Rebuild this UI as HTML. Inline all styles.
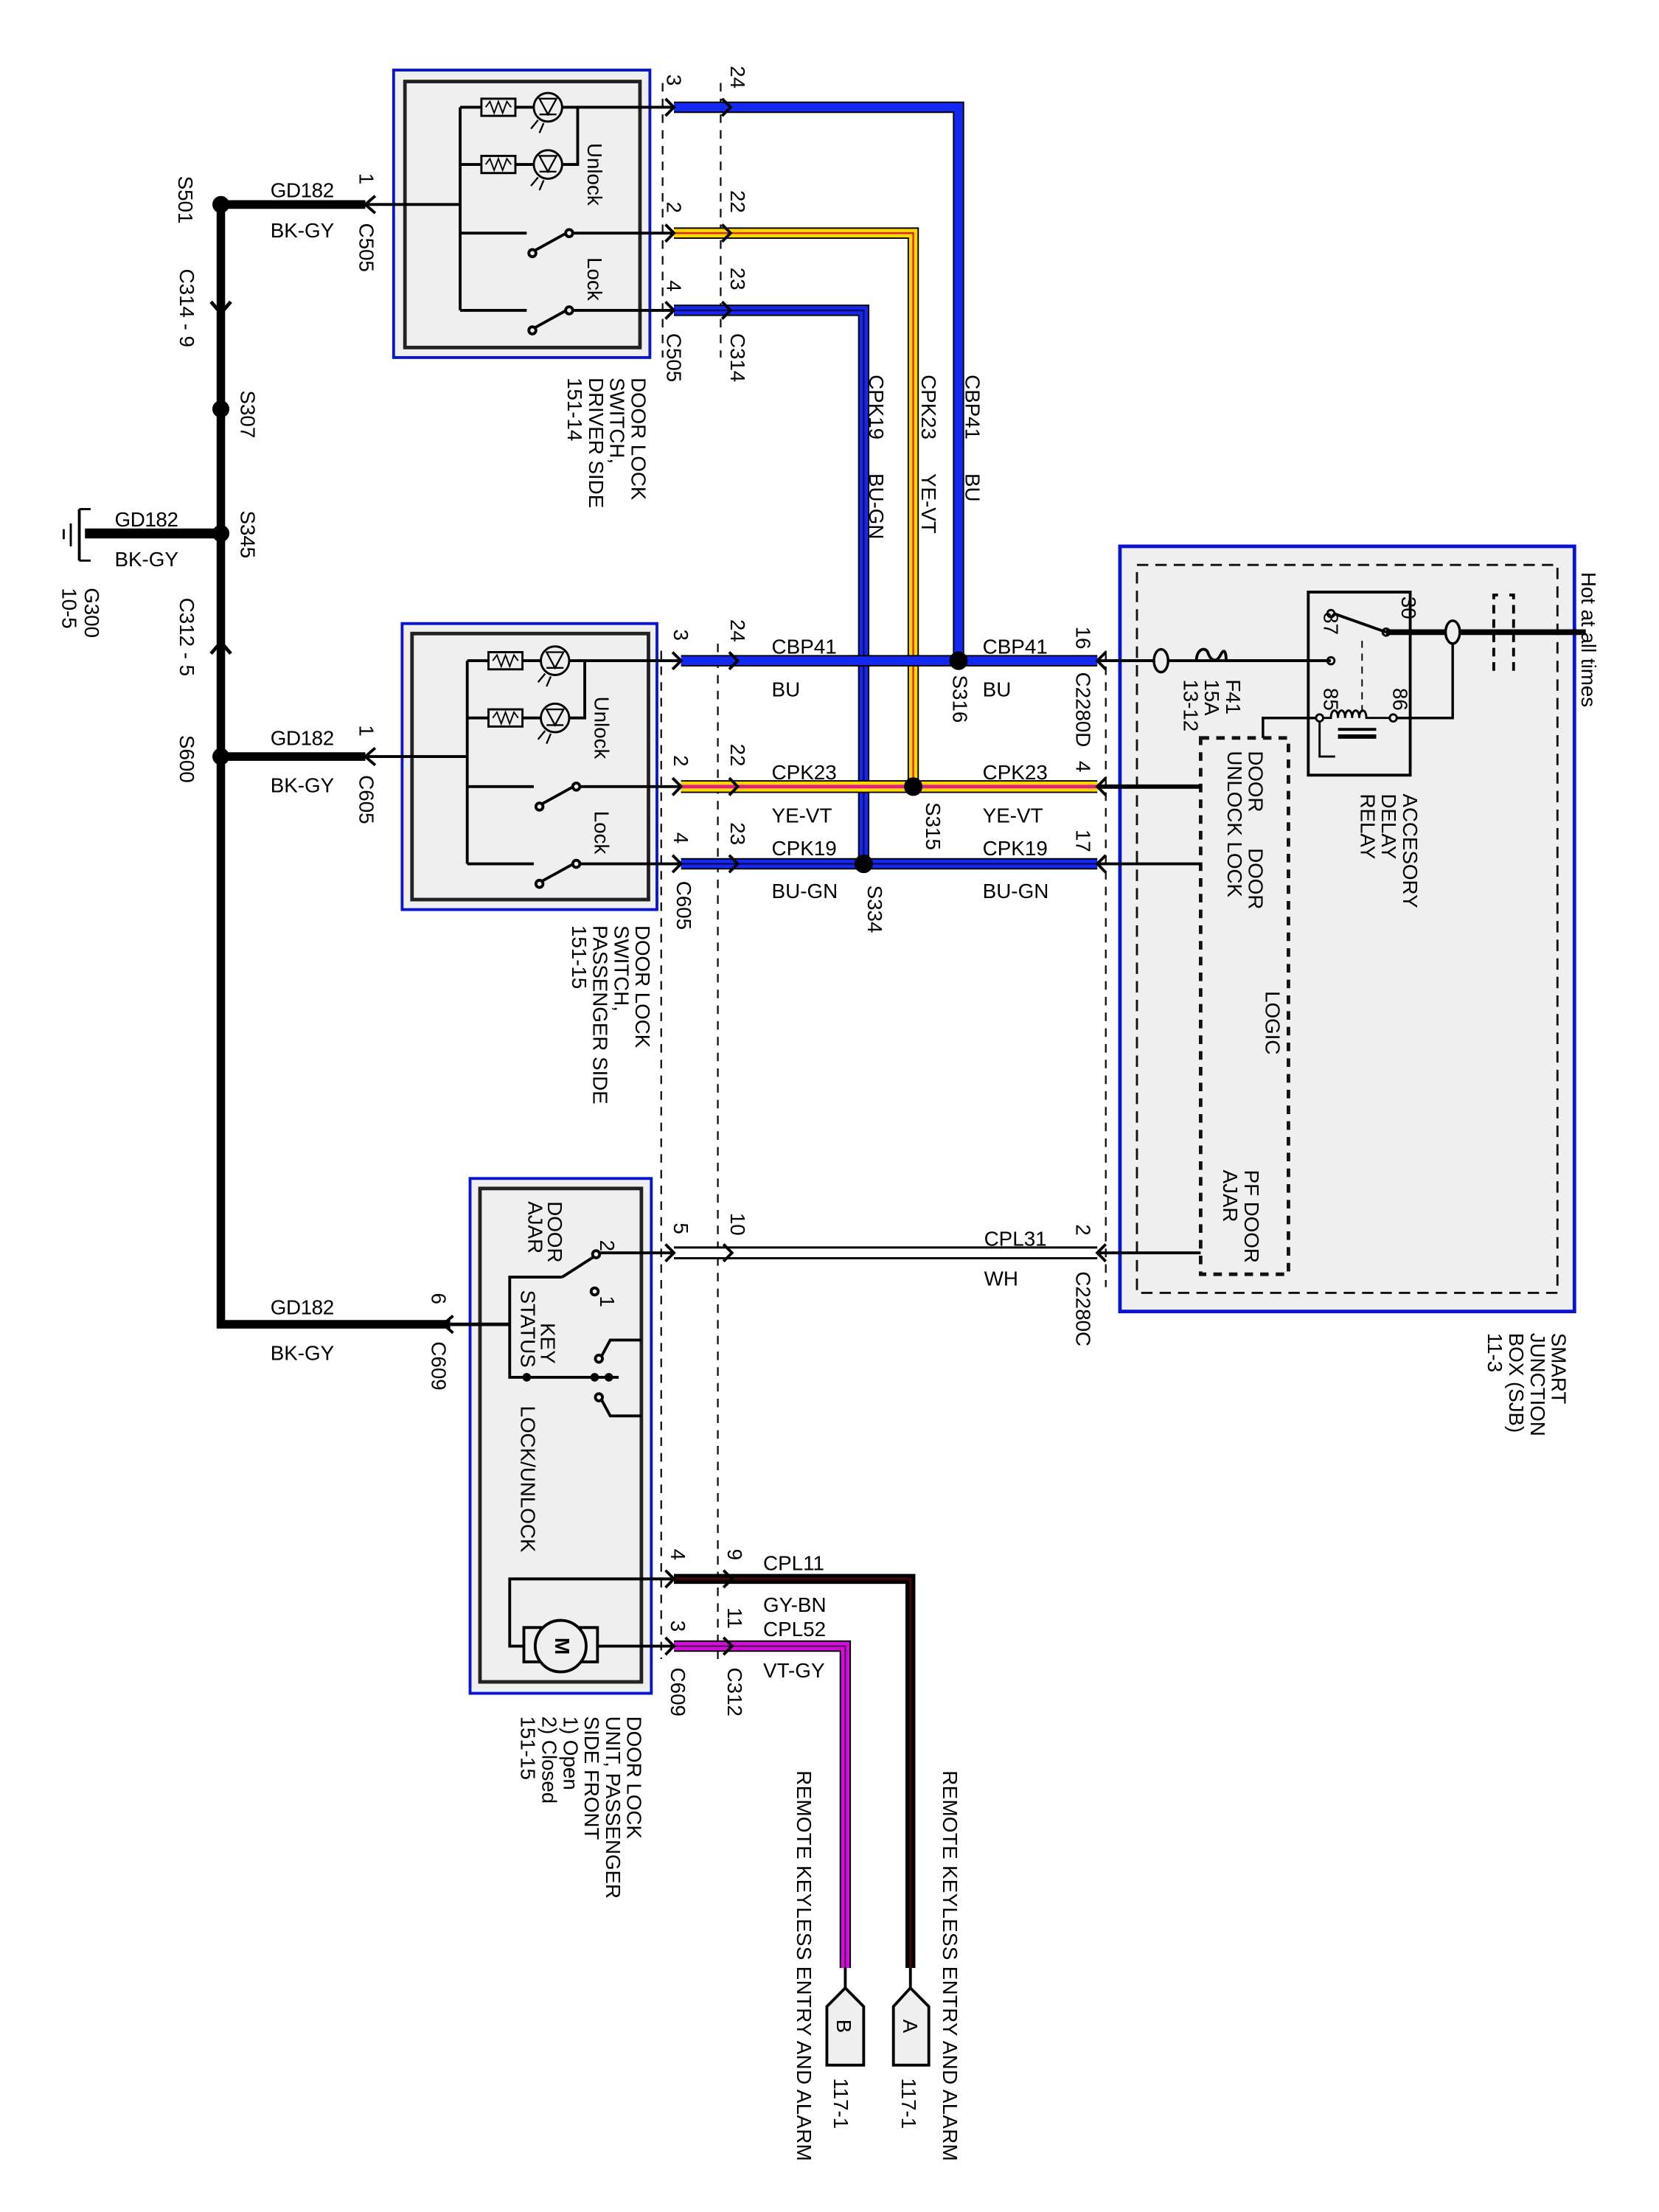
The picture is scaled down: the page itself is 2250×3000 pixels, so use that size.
<!DOCTYPE html>
<html><head><meta charset="utf-8"><style>
html,body{margin:0;padding:0;background:#fff;}
svg{display:block;}
text{font-family:"Liberation Sans",Arial,sans-serif;fill:#000;}
.n{font-size:14.3px;}
.h{font-size:14.5px;}
</style></head><body>
<svg width="2250" height="3000" viewBox="0 0 1160 1546.67" preserveAspectRatio="none" xmlns="http://www.w3.org/2000/svg">
<rect x="0" y="0" width="1160" height="1547" fill="#fff"/>
<g transform="scale(0.99,1)">

<!-- ===== component boxes ===== -->
<rect x="278" y="49" width="181" height="201" fill="#efefef" stroke="#0a14d0" stroke-width="2"/>
<rect x="286" y="57" width="166" height="186" fill="#efefef" stroke="#222" stroke-width="2.5"/>
<rect x="284" y="436" width="180" height="200" fill="#efefef" stroke="#0a14d0" stroke-width="2"/>
<rect x="291" y="443" width="167" height="186" fill="#efefef" stroke="#222" stroke-width="2.5"/>
<rect x="332" y="824" width="128" height="360" fill="#efefef" stroke="#0a14d0" stroke-width="2"/>
<rect x="339" y="831" width="114" height="345" fill="#efefef" stroke="#222" stroke-width="2.5"/>
<rect x="791" y="382" width="321" height="535" fill="#efefef" stroke="#0a14d0" stroke-width="2.5"/>
<rect x="803" y="395" width="297" height="509" fill="none" stroke="#111" stroke-width="1.5" stroke-dasharray="8,5"/>
<rect x="848" y="516" width="62" height="375" fill="none" stroke="#111" stroke-width="2.5" stroke-dasharray="6,5"/>

<!-- connector dashed lines -->
<g stroke="#111" stroke-width="1.2" stroke-dasharray="6,5" fill="none">
<line x1="468" y1="58" x2="468" y2="250"/>
<line x1="509" y1="58" x2="509" y2="250"/>
<line x1="467" y1="455" x2="467" y2="1160"/>
<line x1="507" y1="450" x2="507" y2="1160"/>
<line x1="781" y1="455" x2="781" y2="900"/>
</g>

<!-- ===== ground bus ===== -->
<g stroke="#000" fill="none">
<polyline points="156,143 156,926 318,926" stroke-width="6"/>
<line x1="156" y1="143" x2="258" y2="143" stroke-width="6"/>
<line x1="156" y1="529" x2="258" y2="529" stroke-width="6"/>
<line x1="156" y1="373" x2="60" y2="373" stroke-width="7"/>
<line x1="258" y1="143" x2="325" y2="143" stroke-width="2"/>
<line x1="258" y1="529" x2="330" y2="529" stroke-width="2"/>
<line x1="318" y1="926" x2="360" y2="926" stroke-width="2.5"/>
<path d="M149 211 L156 219 L163 211" stroke-width="2.5"/>
<path d="M149 457 L156 449 L163 457" stroke-width="2.5"/>
<path d="M265 137 L258 143 L265 149" stroke-width="2"/>
<path d="M265 523 L258 529 L265 535" stroke-width="2"/>
<path d="M320 920 L313 926 L320 932" stroke-width="2"/>
<line x1="56" y1="356" x2="56" y2="392" stroke-width="2"/>
<path d="M56 356 L64 356 M56 392 L64 392" stroke-width="1.5"/>
<line x1="50" y1="366" x2="50" y2="382" stroke-width="1.5"/>
<line x1="45" y1="370" x2="45" y2="377" stroke-width="1.5"/>
</g>
<g fill="#000">
<circle cx="156" cy="143" r="6"/><circle cx="156" cy="286" r="6"/>
<circle cx="156" cy="373" r="6"/><circle cx="156" cy="529" r="6"/>
</g>

<!-- ===== switch internals (driver, passenger) ===== -->
<g id="drv" stroke="#000" fill="none" stroke-width="2">
<line x1="325" y1="75" x2="325" y2="217"/>
<line x1="325" y1="75" x2="340" y2="75"/><rect x="340" y="69" width="24" height="12" stroke-width="1.5"/>
<path d="M343 75 l3 -4 l3 8 l3 -8 l3 8 l3 -8 l3 4" stroke-width="1"/>
<line x1="364" y1="75" x2="377" y2="75"/><circle cx="387" cy="75" r="10" stroke-width="1.5"/>
<path d="M381 69 L387 80 L393 69 Z M381 80 L393 80" stroke-width="1.2"/>
<line x1="397" y1="75" x2="476" y2="75"/>
<line x1="325" y1="115" x2="340" y2="115"/><rect x="340" y="109" width="24" height="12" stroke-width="1.5"/>
<path d="M343 115 l3 -4 l3 8 l3 -8 l3 8 l3 -8 l3 4" stroke-width="1"/>
<line x1="364" y1="115" x2="377" y2="115"/><circle cx="387" cy="115" r="10" stroke-width="1.5"/>
<path d="M381 109 L387 120 L393 109 Z M381 120 L393 120" stroke-width="1.2"/>
<polyline points="397,115 408,115 408,75"/>
<path d="M380 84 l-5 6 M384 86 l-3 7 M380 124 l-5 6 M384 126 l-3 7" stroke-width="1.2"/>
<line x1="325" y1="163" x2="372" y2="163"/>
<circle cx="376" cy="177" r="2.5"/><line x1="378" y1="175" x2="400" y2="163"/><circle cx="402" cy="163" r="2.5"/>
<line x1="404" y1="163" x2="476" y2="163"/>
<line x1="325" y1="217" x2="372" y2="217"/>
<circle cx="376" cy="231" r="2.5"/><line x1="378" y1="229" x2="400" y2="217"/><circle cx="402" cy="217" r="2.5"/>
<line x1="404" y1="217" x2="476" y2="217"/>
</g>
<use href="#drv" transform="translate(5,387)"/>

<!-- ===== wires ===== -->
<g fill="none" stroke-linejoin="miter">
<polyline points="476,75 677,75 677,462" stroke="#000" stroke-width="8"/>
<polyline points="476,75 677,75 677,462" stroke="#1428f0" stroke-width="6"/>
<polyline points="476,163 645,163 645,550" stroke="#000" stroke-width="8"/>
<polyline points="476,163 645,163 645,550" stroke="#ffd800" stroke-width="6"/>
<polyline points="476,163 645,163 645,550" stroke="#e02020" stroke-width="1.2"/>
<polyline points="476,217 610,217 610,604" stroke="#000" stroke-width="8"/>
<polyline points="476,217 610,217 610,604" stroke="#1428f0" stroke-width="6"/>
<polyline points="476,217 610,217 610,604" stroke="#0a0a60" stroke-width="1.2"/>
<line x1="481" y1="462" x2="775" y2="462" stroke="#000" stroke-width="8"/>
<line x1="481" y1="462" x2="775" y2="462" stroke="#1428f0" stroke-width="6"/>
<line x1="481" y1="550" x2="775" y2="550" stroke="#000" stroke-width="9"/>
<line x1="481" y1="550" x2="775" y2="550" stroke="#ffd800" stroke-width="7"/>
<line x1="481" y1="550" x2="775" y2="550" stroke="#e0208a" stroke-width="2.5"/>
<line x1="481" y1="604" x2="775" y2="604" stroke="#000" stroke-width="8"/>
<line x1="481" y1="604" x2="775" y2="604" stroke="#1428f0" stroke-width="6"/>
<line x1="481" y1="604" x2="775" y2="604" stroke="#0a0a60" stroke-width="1.2"/>
<line x1="476" y1="876" x2="775" y2="876" stroke="#000" stroke-width="9"/>
<line x1="476" y1="876" x2="775" y2="876" stroke="#fff" stroke-width="6"/>
<polyline points="476,1104 643,1104 643,1376" stroke="#000" stroke-width="7"/>
<polyline points="476,1104 643,1104 643,1376" stroke="#3a0a0a" stroke-width="2"/>
<polyline points="476,1151 597,1151 597,1376" stroke="#000" stroke-width="8"/>
<polyline points="476,1151 597,1151 597,1376" stroke="#d010d8" stroke-width="6"/>
<polyline points="476,1151 597,1151 597,1376" stroke="#500050" stroke-width="1"/>
<g stroke="#000" stroke-width="2">
<line x1="775" y1="462" x2="940" y2="462"/>
<line x1="775" y1="550" x2="848" y2="550" stroke-width="3"/>
<line x1="775" y1="604" x2="848" y2="604"/>
<line x1="775" y1="876" x2="848" y2="876"/>
</g>
</g>
<g fill="#000">
<circle cx="677" cy="462" r="6.5"/><circle cx="645" cy="550" r="6.5"/><circle cx="610" cy="604" r="6.5"/>
</g>

<!-- chevrons -->
<g stroke="#000" stroke-width="2" fill="none">
<path d="M470 69 L476 75 L470 81 M510 69 L516 75 L510 81"/>
<path d="M470 157 L476 163 L470 169 M510 157 L516 163 L510 169"/>
<path d="M470 211 L476 217 L470 223 M510 211 L516 217 L510 223"/>
<path d="M475 456 L481 462 L475 468 M515 456 L521 462 L515 468"/>
<path d="M475 544 L481 550 L475 556 M515 544 L521 550 L515 556"/>
<path d="M475 598 L481 604 L475 610 M515 598 L521 604 L515 610"/>
<path d="M470 870 L476 876 L470 882 M511 870 L517 876 L511 882"/>
<path d="M470 1098 L476 1104 L470 1110 M511 1098 L517 1104 L511 1110"/>
<path d="M470 1145 L476 1151 L470 1157 M511 1145 L517 1151 L511 1157"/>
<path d="M781 456 L775 462 L781 468 M781 544 L775 550 L781 556 M781 598 L775 604 L781 610 M781 870 L775 876 L781 882"/>
</g>

<!-- ===== lock unit internals ===== -->
<g stroke="#000" stroke-width="2" fill="none">
<circle cx="421" cy="877" r="2.5"/><line x1="423" y1="876" x2="476" y2="876"/>
<line x1="397" y1="893" x2="419" y2="879"/>
<polyline points="397,893 360,893 360,963 437,963"/>
<circle cx="420" cy="903" r="2.5"/>
<circle cx="423" cy="950" r="2.5"/><polyline points="425,948 431,937 453,937"/>
<circle cx="423" cy="977" r="2.5"/><polyline points="425,979 431,990 453,990"/>
<line x1="330" y1="926" x2="360" y2="926"/>
<rect x="370" y="1138" width="52" height="24" fill="#efefef"/>
<circle cx="396" cy="1151" r="18" fill="#efefef"/>
<polyline points="422,1151 476,1151"/>
<polyline points="370,1151 360,1151 360,1104 476,1104"/>
</g>
<g fill="#000"><circle cx="372" cy="963" r="3"/><circle cx="420" cy="963" r="3"/><circle cx="430" cy="963" r="3"/></g>
<text x="396" y="1151" transform="rotate(90 396 1151)" text-anchor="middle" dominant-baseline="middle" class="h" font-weight="bold">M</text>

<!-- ===== SJB relay ===== -->
<g stroke="#000" fill="none">
<rect x="924" y="414" width="72" height="128" stroke-width="2"/>
<line x1="979" y1="442" x2="1069" y2="442" stroke-width="4"/>
<line x1="1069" y1="442" x2="1120" y2="442" stroke-width="4"/>
<ellipse cx="1026" cy="442" rx="5" ry="8" stroke-width="1.8" fill="#efefef"/>
<path d="M1058 416 L1055 416 L1055 470 L1058 470 M1066 416 L1069 416 L1069 470 L1066 470" stroke-width="2" stroke-dasharray="6,4"/>
<line x1="979" y1="442" x2="942" y2="429" stroke-width="2"/>
<circle cx="979" cy="442" r="2.5" stroke-width="1.5"/><circle cx="940" cy="429" r="2.5" stroke-width="1.5"/>
<line x1="962" y1="448" x2="962" y2="498" stroke-width="1" stroke-dasharray="5,4"/>
<circle cx="940" cy="462" r="2.5" stroke-width="1.5"/>
<ellipse cx="820" cy="462" rx="5" ry="8" stroke-width="1.8" fill="#efefef"/>
<path d="M845 462 c0 -8 6 -10 8 -6 c2 6 6 8 9 2 c2 -4 4 -4 4 4" stroke-width="2" fill="none"/>
<line x1="866" y1="462" x2="938" y2="462" stroke-width="2" />
<line x1="780" y1="462" x2="815" y2="462" stroke-width="2"/>
<circle cx="932" cy="502" r="2.5" stroke-width="1.5"/><circle cx="984" cy="502" r="2.5" stroke-width="1.5"/>
<path d="M935 502 L940 502 c0 -7 5 -7 5 0 c0 -7 5 -7 5 0 c0 -7 5 -7 5 0 c0 -7 5 -7 5 0 c0 -7 5 -7 5 0 L982 502" stroke-width="1.5"/>
<line x1="945" y1="510" x2="972" y2="510" stroke-width="2"/><line x1="945" y1="515" x2="972" y2="515" stroke-width="3"/>
<polyline points="932,505 932,529 943,529 l2 -4 l3 8 l3 -8 l3 8 l3 -8 l3 8 l3 -8 l2 4 L984 529 984,505" stroke-width="1.5"/>
<polyline points="986,502 1026,502 1026,450" stroke-width="1.8"/>
<polyline points="929,502 892,502 892,516" stroke-width="1.8"/>
</g>

<!-- A/B connectors -->
<g stroke="#000" stroke-width="2" fill="#efefef">
<line x1="643" y1="1376" x2="643" y2="1390"/><line x1="597" y1="1376" x2="597" y2="1390"/>
<path d="M631 1403 L643 1390 L656 1403 L656 1444 L631 1444 Z"/>
<path d="M584 1403 L597 1390 L610 1403 L610 1444 L584 1444 Z"/>
</g>

<!-- ===== horizontal labels ===== -->
<g class="h">
<text x="191" y="138" textLength="45">GD182</text><text x="191" y="166" textLength="45">BK-GY</text>
<text x="191" y="521" textLength="45">GD182</text><text x="191" y="554" textLength="45">BK-GY</text>
<text x="191" y="919" textLength="45">GD182</text><text x="191" y="951" textLength="45">BK-GY</text>
<text x="81" y="368" textLength="45">GD182</text><text x="81" y="396" textLength="45">BK-GY</text>
<text x="545" y="457">CBP41</text><text x="545" y="487">BU</text>
<text x="694" y="457">CBP41</text><text x="694" y="487">BU</text>
<text x="545" y="545">CPK23</text><text x="545" y="575">YE-VT</text>
<text x="694" y="545">CPK23</text><text x="694" y="575">YE-VT</text>
<text x="545" y="598">CPK19</text><text x="545" y="628">BU-GN</text>
<text x="694" y="598">CPK19</text><text x="694" y="628">BU-GN</text>
<text x="695" y="871">CPL31</text><text x="695" y="899">WH</text>
<text x="539" y="1098">CPL11</text><text x="539" y="1127">GY-BN</text>
<text x="539" y="1144">CPL52</text><text x="539" y="1173">VT-GY</text>
</g>

<!-- ===== rotated labels ===== -->
<g class="n">
<text transform="translate(126,123) rotate(90)">S501</text>
<text transform="translate(127,188) rotate(90)">C314 - 9</text>
<text transform="translate(170,273) rotate(90)">S307</text>
<text transform="translate(170,357) rotate(90)">S345</text>
<text transform="translate(127,418) rotate(90)">C312 - 5</text>
<text transform="translate(127,514) rotate(90)">S600</text>
<text transform="translate(60,411) rotate(90)">G300</text>
<text transform="translate(44,411) rotate(90)">10-5</text>
<text transform="translate(254,121) rotate(90)">1</text>
<text transform="translate(254,156) rotate(90)">C505</text>
<text transform="translate(254,507) rotate(90)">1</text>
<text transform="translate(254,542) rotate(90)">C605</text>
<text transform="translate(305,904) rotate(90)">6</text>
<text transform="translate(305,938) rotate(90)">C609</text>
<text transform="translate(471,52) rotate(90)">3</text>
<text transform="translate(516,46) rotate(90)">24</text>
<text transform="translate(471,141) rotate(90)">2</text>
<text transform="translate(516,133) rotate(90)">22</text>
<text transform="translate(471,196) rotate(90)">4</text>
<text transform="translate(516,187) rotate(90)">23</text>
<text transform="translate(471,233) rotate(90)">C505</text>
<text transform="translate(516,233) rotate(90)">C314</text>
<text transform="translate(682,262) rotate(90)">CBP41</text>
<text transform="translate(682,331) rotate(90)">BU</text>
<text transform="translate(651,262) rotate(90)">CPK23</text>
<text transform="translate(651,331) rotate(90)">YE-VT</text>
<text transform="translate(614,262) rotate(90)">CPK19</text>
<text transform="translate(614,331) rotate(90)">BU-GN</text>
<text transform="translate(446,264) rotate(90)">DOOR LOCK</text>
<text transform="translate(431,264) rotate(90)">SWITCH,</text>
<text transform="translate(416,264) rotate(90)">DRIVER SIDE</text>
<text transform="translate(401,264) rotate(90)">151-14</text>
<text transform="translate(415,100) rotate(90)">Unlock</text>
<text transform="translate(415,180) rotate(90)">Lock</text>
<text transform="translate(420,487) rotate(90)">Unlock</text>
<text transform="translate(420,567) rotate(90)">Lock</text>
<text transform="translate(476,440) rotate(90)">3</text>
<text transform="translate(516,433) rotate(90)">24</text>
<text transform="translate(476,528) rotate(90)">2</text>
<text transform="translate(516,520) rotate(90)">22</text>
<text transform="translate(476,582) rotate(90)">4</text>
<text transform="translate(516,575) rotate(90)">23</text>
<text transform="translate(478,616) rotate(90)">C605</text>
<text transform="translate(613,619) rotate(90)">S334</text>
<text transform="translate(654,561) rotate(90)">S315</text>
<text transform="translate(673,472) rotate(90)">S316</text>
<text transform="translate(760,438) rotate(90)">16</text>
<text transform="translate(760,470) rotate(90)">C2280D</text>
<text transform="translate(760,532) rotate(90)">4</text>
<text transform="translate(760,580) rotate(90)">17</text>
<text transform="translate(449,647) rotate(90)">DOOR LOCK</text>
<text transform="translate(434,647) rotate(90)">SWITCH,</text>
<text transform="translate(419,647) rotate(90)">PASSENGER SIDE</text>
<text transform="translate(404,647) rotate(90)">151-15</text>
<text transform="translate(1117,400) rotate(90)">Hot at all times</text>
<text transform="translate(990,417) rotate(90)">30</text>
<text transform="translate(935,428) rotate(90)">87</text>
<text transform="translate(935,481) rotate(90)">85</text>
<text transform="translate(984,481) rotate(90)">86</text>
<text transform="translate(866,475) rotate(90)">F41</text>
<text transform="translate(851,475) rotate(90)">15A</text>
<text transform="translate(836,475) rotate(90)">13-12</text>
<text transform="translate(882,525) rotate(90)">DOOR</text>
<text transform="translate(867,525) rotate(90)">UNLOCK  LOCK</text>
<text transform="translate(882,593) rotate(90)">DOOR</text>
<text transform="translate(894,693) rotate(90)">LOGIC</text>
<text transform="translate(879,818) rotate(90)">PF DOOR</text>
<text transform="translate(864,818) rotate(90)">AJAR</text>
<text transform="translate(991,555) rotate(90)">ACCESORY</text>
<text transform="translate(976,555) rotate(90)">DELAY</text>
<text transform="translate(961,555) rotate(90)">RELAY</text>
<text transform="translate(1096,932) rotate(90)">SMART</text>
<text transform="translate(1081,932) rotate(90)">JUNCTION</text>
<text transform="translate(1066,932) rotate(90)">BOX (SJB)</text>
<text transform="translate(1051,932) rotate(90)">11-3</text>
<text transform="translate(760,856) rotate(90)">2</text>
<text transform="translate(760,889) rotate(90)">C2280C</text>
<text transform="translate(476,855) rotate(90)">5</text>
<text transform="translate(516,848) rotate(90)">10</text>
<text transform="translate(387,840) rotate(90)">DOOR</text>
<text transform="translate(373,840) rotate(90)">AJAR</text>
<text transform="translate(424,867) rotate(90)">2</text>
<text transform="translate(424,906) rotate(90)">1</text>
<text transform="translate(382,925) rotate(90)">KEY</text>
<text transform="translate(368,902) rotate(90)">STATUS</text>
<text transform="translate(368,983) rotate(90)">LOCK/UNLOCK</text>
<text transform="translate(474,1083) rotate(90)">4</text>
<text transform="translate(514,1083) rotate(90)">9</text>
<text transform="translate(474,1133) rotate(90)">3</text>
<text transform="translate(514,1124) rotate(90)">11</text>
<text transform="translate(474,1166) rotate(90)">C609</text>
<text transform="translate(514,1166) rotate(90)">C312</text>
<text transform="translate(443,1200) rotate(90)">DOOR LOCK</text>
<text transform="translate(428,1200) rotate(90)">UNIT, PASSENGER</text>
<text transform="translate(413,1200) rotate(90)">SIDE FRONT</text>
<text transform="translate(398,1200) rotate(90)">1) Open</text>
<text transform="translate(383,1200) rotate(90)">2) Closed</text>
<text transform="translate(368,1200) rotate(90)">151-15</text>
<text transform="translate(666,1238) rotate(90)" textLength="273">REMOTE KEYLESS ENTRY AND ALARM</text>
<text transform="translate(563,1238) rotate(90)" textLength="273">REMOTE KEYLESS ENTRY AND ALARM</text>
<text transform="translate(638,1412) rotate(90)">A</text>
<text transform="translate(591,1412) rotate(90)">B</text>
<text transform="translate(637,1453) rotate(90)">117-1</text>
<text transform="translate(589,1453) rotate(90)">117-1</text>
</g>
</g>
</svg>
</body></html>
